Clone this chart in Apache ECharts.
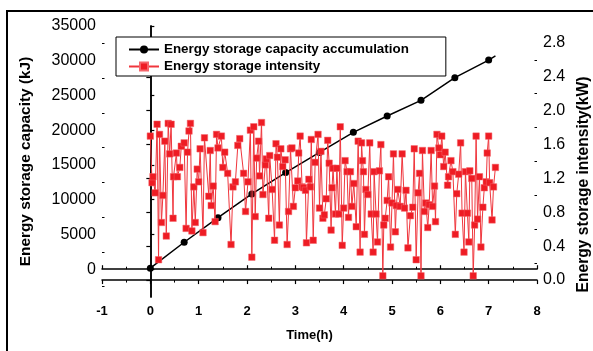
<!DOCTYPE html>
<html>
<head>
<meta charset="utf-8">
<script src="https://cdn.jsdelivr.net/npm/echarts@6/dist/echarts.min.js"></script>
<style>
  html, body { margin: 0; padding: 0; background: #fff; }
  #chart { width: 593px; height: 351px; }
</style>
</head>
<body>
<div id="chart"></div>
<script>
// capacity accumulation, [time h, kJ]
const capacityData = [
  [0, 150], [0.7, 3880], [1.4, 7420], [2.1, 10830], [2.8, 13900], [3.5, 16800],
  [4.2, 19700], [4.9, 22050], [5.6, 24300], [6.3, 27560], [7.0, 30100]
];
const capacityEnd = [7.14, 30700];

// storage intensity, [time h, kW]
const intensityData = [
  [0.00, 1.70], [0.035, 1.15], [0.055, 1.22], [0.10, 1.03], [0.14, 1.84], [0.17, 0.24], [0.19, 1.72],
  [0.23, 0.68], [0.26, 1.00], [0.30, 1.64], [0.33, 0.52], [0.37, 1.85], [0.40, 1.49], [0.43, 1.84],
  [0.47, 0.73], [0.48, 1.22], [0.54, 1.50], [0.56, 1.22], [0.61, 1.33], [0.64, 1.58], [0.70, 1.62],
  [0.74, 0.61], [0.77, 1.51], [0.80, 1.76], [0.83, 1.85], [0.86, 0.58], [0.90, 1.10], [0.93, 0.68],
  [0.97, 1.31], [1.00, 1.16], [1.03, 1.55], [1.09, 0.56], [1.12, 1.68], [1.21, 0.99], [1.24, 1.53],
  [1.26, 0.88], [1.30, 1.11], [1.34, 0.69], [1.37, 1.72], [1.40, 1.56], [1.47, 1.70], [1.50, 1.33],
  [1.54, 1.51], [1.60, 1.26], [1.67, 0.42], [1.71, 1.10], [1.76, 1.16], [1.81, 1.59], [1.85, 1.67],
  [1.93, 1.26], [1.97, 0.81], [2.02, 1.16], [2.07, 1.77], [2.10, 0.27], [2.14, 1.81], [2.17, 0.75],
  [2.20, 1.44], [2.24, 1.64], [2.26, 1.23], [2.30, 1.86], [2.33, 1.01], [2.38, 1.36], [2.40, 1.43],
  [2.45, 0.73], [2.47, 1.47], [2.52, 1.07], [2.57, 0.47], [2.60, 1.61], [2.63, 1.45], [2.67, 0.65],
  [2.70, 1.55], [2.74, 1.34], [2.79, 1.42], [2.83, 0.42], [2.86, 0.81], [2.90, 1.55], [2.93, 1.56],
  [2.96, 0.87], [3.00, 1.09], [3.05, 1.17], [3.07, 1.50], [3.10, 1.70], [3.14, 1.10], [3.17, 1.09],
  [3.21, 1.06], [3.23, 0.44], [3.28, 1.19], [3.31, 1.10], [3.33, 1.66], [3.37, 0.47], [3.41, 1.39],
  [3.47, 1.72], [3.50, 0.85], [3.53, 1.52], [3.57, 0.73], [3.60, 0.77], [3.64, 0.96], [3.67, 1.65],
  [3.70, 1.38], [3.74, 0.59], [3.76, 1.09], [3.78, 1.32], [3.83, 0.78], [3.86, 1.32], [3.90, 0.78],
  [3.93, 1.81], [3.97, 0.41], [4.00, 0.85], [4.03, 1.41], [4.07, 1.28], [4.10, 0.74], [4.14, 1.28],
  [4.17, 0.87], [4.21, 1.14], [4.26, 0.63], [4.30, 1.64], [4.34, 0.33], [4.37, 1.62], [4.39, 1.41],
  [4.41, 1.28], [4.43, 0.54], [4.46, 1.07], [4.50, 1.01], [4.54, 1.62], [4.57, 0.78], [4.61, 0.33],
  [4.63, 1.28], [4.67, 0.78], [4.70, 0.45], [4.74, 1.29], [4.77, 1.60], [4.81, 0.05], [4.83, 0.65],
  [4.86, 0.73], [4.90, 0.94], [4.93, 1.22], [4.97, 0.39], [5.00, 0.91], [5.03, 1.49], [5.07, 0.57],
  [5.09, 0.88], [5.12, 1.07], [5.17, 0.87], [5.21, 1.49], [5.26, 0.85], [5.29, 1.06], [5.33, 0.38],
  [5.38, 0.76], [5.43, 0.86], [5.46, 1.55], [5.50, 0.24], [5.54, 1.03], [5.57, 1.26], [5.60, 0.05],
  [5.63, 1.53], [5.67, 0.81], [5.70, 0.91], [5.74, 0.62], [5.77, 0.89], [5.81, 1.53], [5.84, 0.87],
  [5.88, 1.11], [5.90, 0.69], [5.93, 1.72], [5.97, 1.56], [6.00, 1.48], [6.03, 1.70], [6.07, 1.34],
  [6.10, 1.51], [6.15, 1.12], [6.17, 1.22], [6.22, 1.41], [6.26, 1.28], [6.31, 0.54], [6.34, 1.02],
  [6.38, 1.25], [6.42, 1.62], [6.45, 0.79], [6.49, 0.33], [6.52, 1.28], [6.56, 0.79], [6.59, 0.45],
  [6.61, 1.29], [6.65, 1.20], [6.68, 0.05], [6.71, 0.65], [6.74, 1.70], [6.77, 0.72], [6.81, 1.22],
  [6.84, 0.39], [6.88, 0.86], [6.91, 1.09], [6.95, 1.16], [6.97, 1.50], [7.00, 1.70], [7.02, 1.15],
  [7.07, 0.71], [7.10, 1.10], [7.14, 1.33]
];

const leftTicks = [0, 5000, 10000, 15000, 20000, 25000, 30000, 35000];
const leftMinorTicks = [-2500, 2500, 7500, 12500, 17500, 22500, 27500, 32500];
const rightTicks = [0, 0.4, 0.8, 1.2, 1.6, 2.0, 2.4, 2.8];
const rightMinorTicks = [0.2, 0.6, 1.0, 1.4, 1.8, 2.2, 2.6];

const font = "'Liberation Sans', Arial, sans-serif";
const axisLine = { show: true, lineStyle: { color: '#000', width: 1.5 } };

const chart = echarts.init(document.getElementById('chart'));

const option = {
  backgroundColor: '#fff',
  animation: false,
  grid: { left: 102, right: 56, top: 26, bottom: 54, outerBoundsMode: 'none' },
  legend: {
    left: 116,
    top: 37,
    orient: 'vertical',
    backgroundColor: '#fff',
    borderColor: '#000',
    borderWidth: 1,
    padding: [6, 37, 3, 12],
    itemWidth: 30,
    itemHeight: 10,
    itemGap: 4,
    textStyle: { fontFamily: font, fontSize: 13.4, fontWeight: 'bold', color: '#000' },
    data: ['Energy storage capacity accumulation', 'Energy storage intensity']
  },
  graphic: [
    {
      type: 'rect',
      shape: { x: 7, y: 11, width: 640, height: 400 },
      style: { fill: 'none', stroke: '#000', lineWidth: 2 },
      silent: true
    }
  ],
  xAxis: [
    {
      type: 'value',
      min: -1,
      max: 8,
      interval: 1,
      position: 'bottom',
      name: 'Time(h)',
      nameLocation: 'middle',
      nameGap: 32,
      nameTextStyle: { fontFamily: font, fontSize: 13, fontWeight: 'bold', color: '#000', padding: [0, 20, 0, 0] },
      axisLine: axisLine,
      axisTick: { show: true, inside: true, length: 4, lineStyle: { color: '#000', width: 1.2 } },
      minorTick: { show: true, splitNumber: 2, length: 2.5, lineStyle: { color: '#000', width: 1 } },
      axisLabel: { fontFamily: font, fontSize: 13, fontWeight: 'bold', color: '#000', margin: 8 },
      splitLine: { show: false }
    },
    {
      type: 'value',
      min: -1,
      max: 8,
      interval: 1,
      position: 'top',
      axisLine: axisLine,
      axisTick: { show: true, inside: true, length: 4, lineStyle: { color: '#000', width: 1.2 } },
      minorTick: { show: true, splitNumber: 2, length: 2.5, lineStyle: { color: '#000', width: 1 } },
      axisLabel: { show: false },
      splitLine: { show: false }
    }
  ],
  yAxis: [
    {
      type: 'value',
      position: 'left',
      min: -4000,
      max: 35000,
      name: 'Energy storage capacity (kJ)',
      nameLocation: 'middle',
      nameRotate: 90,
      nameGap: 69,
      nameTextStyle: { fontFamily: font, fontSize: 15.4, fontWeight: 'bold', color: '#000' },
      axisLine: axisLine,
      axisTick: { show: true, inside: true, length: 4, customValues: leftTicks, lineStyle: { color: '#000', width: 1.2 } },
      axisLabel: {
        fontFamily: font, fontSize: 16, color: '#000', margin: 6, customValues: leftTicks,
        formatter: (v) => String(v)
      },
      splitLine: { show: false }
    },
    {
      type: 'value',
      position: 'right',
      min: -0.2,
      max: 3.0,
      name: 'Energy storage intensity(kW)',
      nameLocation: 'middle',
      nameRotate: 90,
      nameGap: 35,
      nameTextStyle: { fontFamily: font, fontSize: 15.6, fontWeight: 'bold', color: '#000', padding: [0, 46, 0, 0] },
      axisLine: axisLine,
      axisTick: { show: true, inside: true, length: 4, customValues: rightTicks, lineStyle: { color: '#000', width: 1.2 } },
      axisLabel: {
        fontFamily: font, fontSize: 16, color: '#000', margin: 6, customValues: rightTicks,
        formatter: (v) => v.toFixed(1)
      },
      splitLine: { show: false }
    },
    {
      type: 'value',
      position: 'left',
      min: -4000,
      max: 35000,
      axisLine: { show: false },
      axisTick: { show: true, inside: true, length: 2.5, customValues: leftMinorTicks, lineStyle: { color: '#000', width: 1 } },
      axisLabel: { show: false },
      splitLine: { show: false }
    },
    {
      type: 'value',
      position: 'right',
      min: -0.2,
      max: 3.0,
      axisLine: { show: false },
      axisTick: { show: true, inside: true, length: 2.5, customValues: rightMinorTicks, lineStyle: { color: '#000', width: 1 } },
      axisLabel: { show: false },
      splitLine: { show: false }
    }
  ],
  series: [
    {
      name: 'Energy storage capacity accumulation',
      type: 'line',
      xAxisIndex: 0,
      yAxisIndex: 0,
      z: 2,
      symbol: 'circle',
      symbolSize: 7,
      showAllSymbol: true,
      itemStyle: { color: '#000' },
      lineStyle: { color: '#000', width: 1.5 },
      data: capacityData.concat([{ value: capacityEnd, symbol: 'none' }])
    },
    {
      name: 'Energy storage intensity',
      type: 'line',
      xAxisIndex: 0,
      yAxisIndex: 1,
      z: 3,
      symbol: 'rect',
      symbolSize: 6.5,
      showAllSymbol: true,
      itemStyle: { color: '#ee1c24', borderColor: '#f5646a', borderWidth: 0.5 },
      lineStyle: { color: '#f0363d', width: 1 },
      data: intensityData
    }
  ]
};

chart.setOption(option);
</script>
</body>
</html>
